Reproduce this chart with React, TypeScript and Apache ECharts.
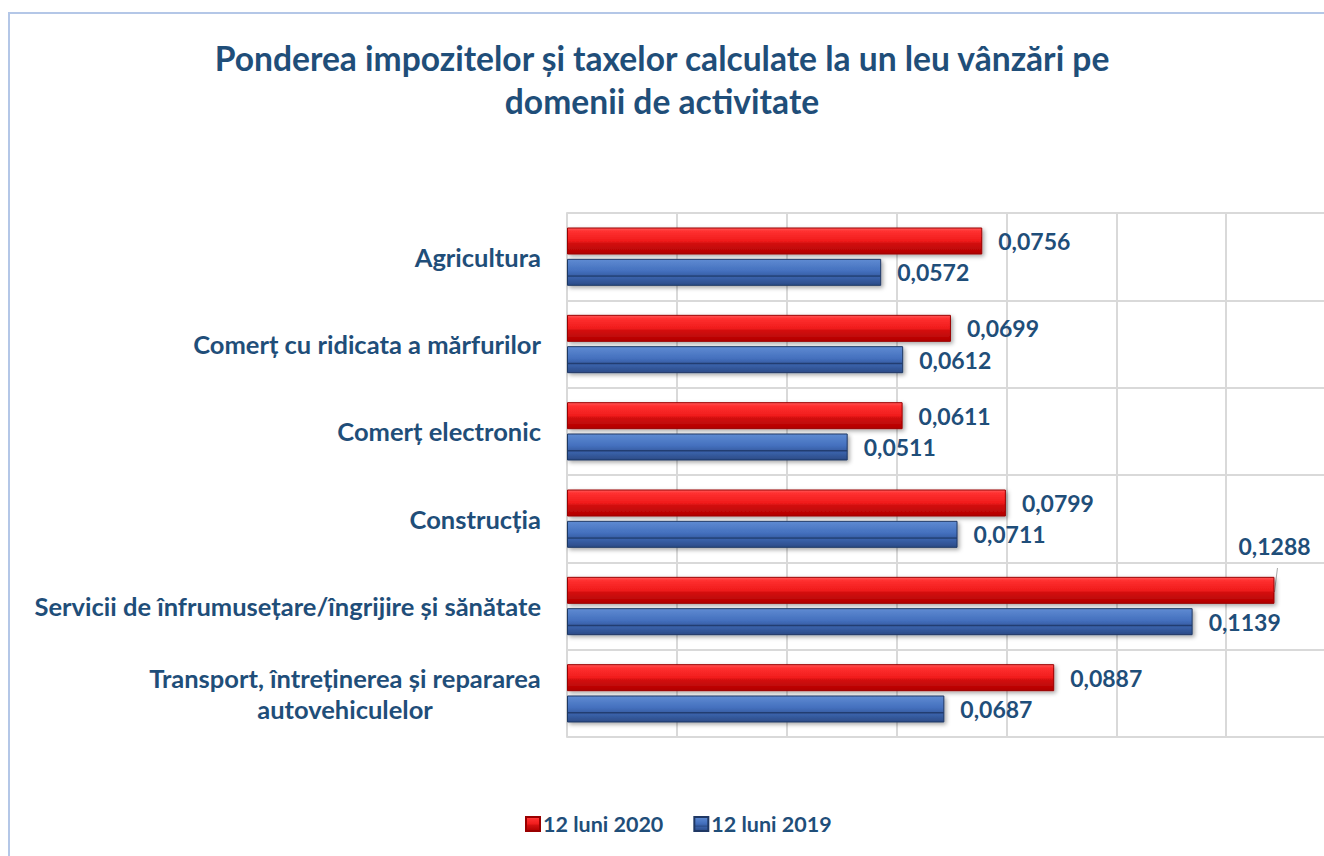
import React, { useEffect, useRef } from "react";
import * as echarts from "echarts";

const categories = [
  "Agricultura",
  "Comerț cu ridicata a mărfurilor",
  "Comerț electronic",
  "Construcția",
  "Servicii de înfrumusețare/îngrijire și sănătate",
  "Transport, întreținerea și repararea\nautovehiculelor",
];
const values2020 = [0.0756, 0.0699, 0.0611, 0.0799, 0.1288, 0.0887];
const values2019 = [0.0572, 0.0612, 0.0511, 0.0711, 0.1139, 0.0687];
const seriesNames = ["12 luni 2020", "12 luni 2019"];
const titleText = "Ponderea impozitelor și taxelor calculate la un leu vânzări pe\ndomenii de activitate";
const leaderIndex = 4;

const TXT = "#1F4E79";
const FONT = "Lato, 'Open Sans', sans-serif";

const fmt = (v: number) => v.toFixed(4).replace(".", ",");

export default function App() {
  const ref = useRef<HTMLDivElement>(null);
  useEffect(() => {
    document.body.style.margin = "0";
    document.body.style.overflow = "hidden";
    const chart = echarts.init(ref.current!, null, { renderer: "svg" });
    const redGrad = new echarts.graphic.LinearGradient(0, 0, 0, 1, [
      { offset: 0, color: "#FF5A5A" },
      { offset: 0.12, color: "#FF3030" },
      { offset: 0.5, color: "#F01C1C" },
      { offset: 0.58, color: "#D41010" },
      { offset: 1, color: "#B00000" },
    ]);
    const blueGrad = new echarts.graphic.LinearGradient(0, 0, 0, 1, [
      { offset: 0, color: "#5F8BD2" },
      { offset: 0.45, color: "#4470BE" },
      { offset: 0.6, color: "#3A62AA" },
      { offset: 0.64, color: "#1E3868" },
      { offset: 0.7, color: "#3A62AA" },
      { offset: 1, color: "#2B4A86" },
    ]);
    const labelBase = {
      show: true,
      position: "right" as const,
      distance: 16,
      color: TXT,
      fontFamily: FONT,
      fontWeight: "bold" as const,
      fontSize: 23,
      formatter: (p: any) => fmt(p.value),
    };
    chart.setOption({
      animation: false,
      backgroundColor: "#FFFFFF",
      title: {
        text: titleText,
        left: 657,
        textAlign: "center",
        top: 31,
        textStyle: {
          color: TXT,
          fontFamily: FONT,
          fontWeight: "bold",
          fontSize: 33.6,
          lineHeight: 43,
        },
      },
      graphic: [
        {
          id: "border",
          type: "rect",
          shape: { x: 9, y: 13, width: 1340, height: 870 },
          style: { fill: "none", stroke: "#B4C7E7", lineWidth: 2 },
          silent: true,
        },
      ],
      legend: {
        bottom: 16,
        left: 520,
        itemWidth: 14,
        itemHeight: 14,
        itemGap: 30,
        icon: "rect",
        data: seriesNames,
        textStyle: {
          color: TXT,
          fontFamily: FONT,
          fontWeight: "bold",
          fontSize: 21.5,
          padding: [0, 0, 0, -2],
        },
      },
      grid: { left: 567, top: 213, bottom: 119, right: 4, containLabel: false },
      xAxis: {
        type: "value",
        min: 0,
        max: 0.14,
        interval: 0.02,
        axisLabel: { show: false },
        axisLine: { show: false },
        axisTick: { show: false },
        splitLine: { show: true, lineStyle: { color: "#D9D9D9", width: 2 } },
      },
      yAxis: {
        type: "category",
        inverse: true,
        data: categories.map((c, i) =>
          i === 5
            ? { value: c, textStyle: { align: "center", padding: [0, 392, 0, 0] } }
            : c
        ),
        axisLine: { show: true, lineStyle: { color: "#D9D9D9", width: 2 } },
        axisTick: { show: false },
        splitLine: { show: true, lineStyle: { color: "#D9D9D9", width: 2 } },
        axisLabel: {
          margin: 26,
          color: TXT,
          fontFamily: FONT,
          fontWeight: "bold",
          fontSize: 25.5,
          lineHeight: 31,
        },
      },
      series: [
        {
          name: seriesNames[0],
          type: "bar",
          barWidth: 27,
          barGap: "16%",
          data: values2020,
          itemStyle: {
            color: redGrad,
            borderColor: "#9A0000",
            borderWidth: 1,
            shadowColor: "rgba(0,0,0,0.35)",
            shadowBlur: 4,
            shadowOffsetX: 2,
            shadowOffsetY: 2,
          },
          label: labelBase,
          labelLayout: (params: any) =>
            params.dataIndex === leaderIndex ? { dx: -52, dy: -44 } : {},
        },
        {
          name: seriesNames[1],
          type: "bar",
          barWidth: 27,
          barGap: "16%",
          data: values2019,
          itemStyle: {
            color: blueGrad,
            borderColor: "#1F3864",
            borderWidth: 1,
            shadowColor: "rgba(0,0,0,0.35)",
            shadowBlur: 4,
            shadowOffsetX: 2,
            shadowOffsetY: 2,
          },
          label: labelBase,
        },
      ],
    });
    const p = chart.convertToPixel({ xAxisIndex: 0, yAxisIndex: 0 }, [
      values2020[leaderIndex],
      leaderIndex,
    ]) as number[];
    if (p && isFinite(p[0]) && isFinite(p[1])) {
      chart.setOption({
        graphic: [
          {
            id: "leader",
            type: "line",
            shape: { x1: p[0] + 3, y1: p[1] - 38, x2: p[0], y2: p[1] - 14 },
            style: { stroke: "#A6A6A6", lineWidth: 1 },
            silent: true,
          },
        ],
      });
    }
    return () => chart.dispose();
  }, []);
  return <div ref={ref} style={{ width: 1340, height: 856 }} />;
}
